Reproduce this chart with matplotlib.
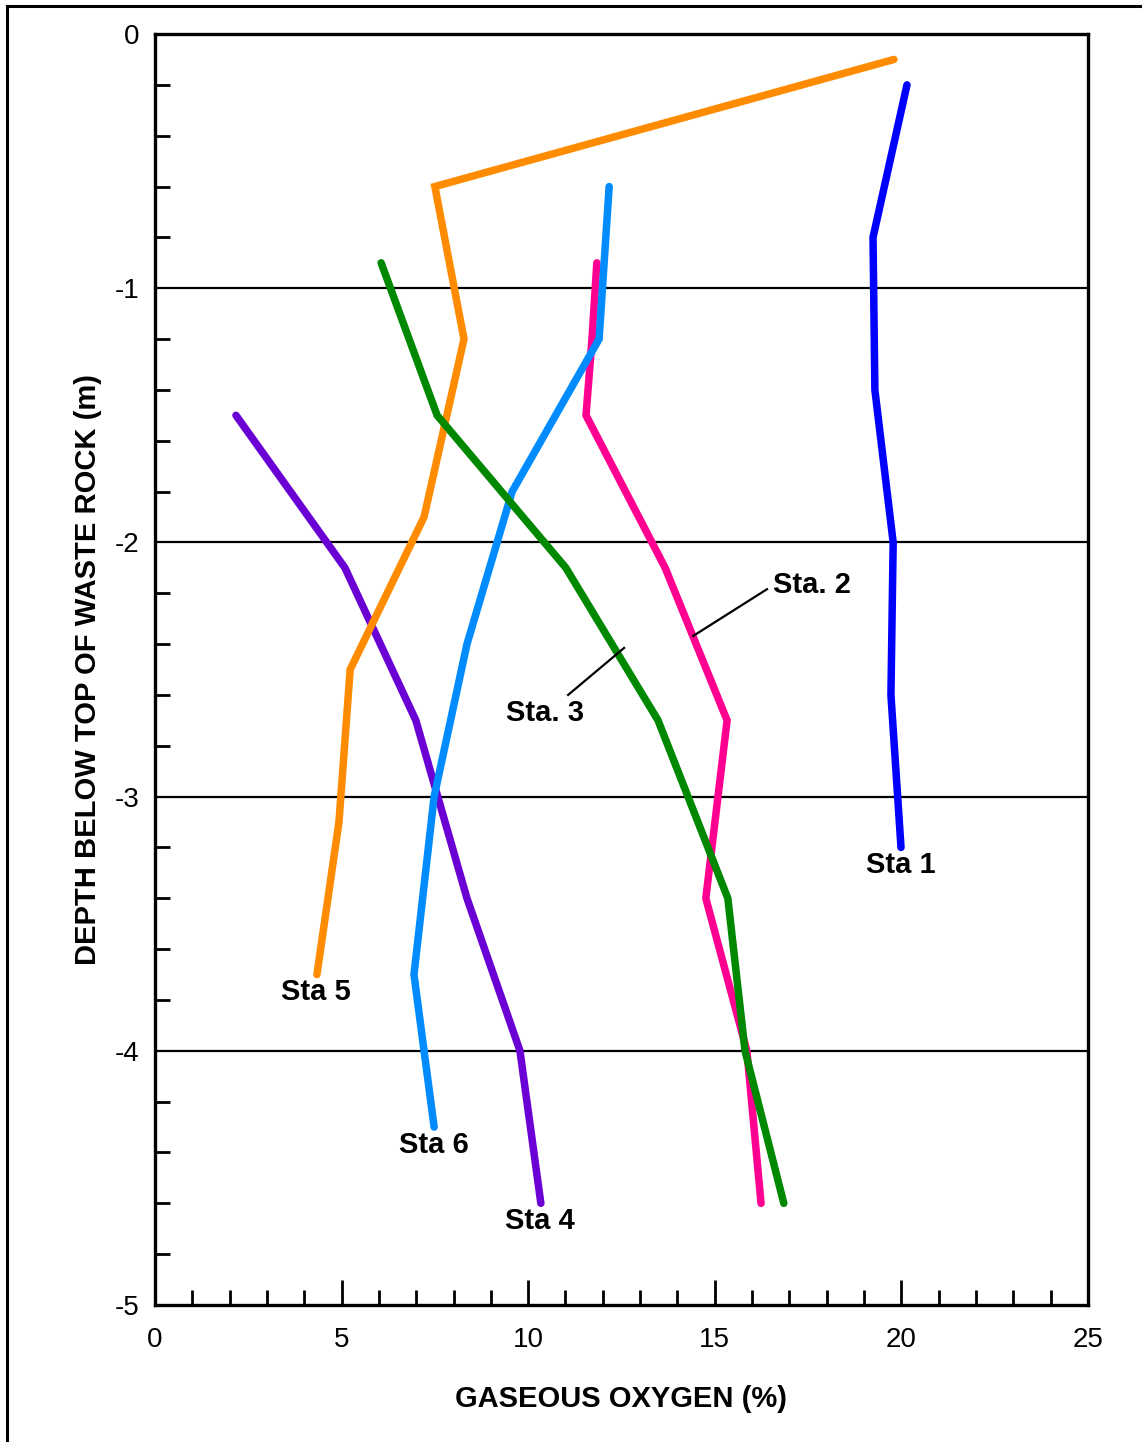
import numpy as np
import matplotlib.pyplot as plt
from matplotlib.lines import Line2D
from matplotlib.ticker import MultipleLocator

plt.rcParams['font.family'] = ['Liberation Sans', 'DejaVu Sans']
plt.rcParams['axes.unicode_minus'] = False

# oxygen profiles: O2 (%) vs depth below top of waste rock (m)
sta1_o2 = [20.15, 19.24, 19.29, 19.78, 19.72, 19.99]
sta1_z = [-0.2, -0.8, -1.4, -2.0, -2.6, -3.2]

sta2_o2 = [11.84, 11.71, 11.55, 13.67, 15.33, 14.76, 15.86, 16.24]
sta2_z = [-0.9, -1.2, -1.5, -2.1, -2.7, -3.4, -4.0, -4.6]

sta3_o2 = [6.06, 7.56, 11.01, 13.48, 15.35, 15.81, 16.85]
sta3_z = [-0.9, -1.5, -2.1, -2.7, -3.4, -4.0, -4.6]

sta4_o2 = [2.17, 5.09, 6.99, 8.36, 9.78, 10.34]
sta4_z = [-1.5, -2.1, -2.7, -3.4, -4.0, -4.6]

sta5_o2 = [19.8, 7.50, 8.28, 7.21, 5.23, 4.93, 4.34]
sta5_z = [-0.1, -0.6, -1.2, -1.9, -2.5, -3.1, -3.7]

sta6_o2 = [12.17, 11.90, 9.57, 8.36, 7.48, 6.94, 7.48]
sta6_z = [-0.6, -1.2, -1.8, -2.4, -3.0, -3.7, -4.3]

fig = plt.figure(figsize=(11.42, 14.42), dpi=100)
ax = fig.add_axes([0.1357, 0.0950, 0.8170, 0.8814])

# horizontal reference lines
for yv in [-1, -2, -3, -4]:
    ax.axhline(yv, color='black', lw=1.6, zorder=1)

style = dict(lw=5.4, solid_capstyle='round', solid_joinstyle='miter')
ax.plot(sta1_o2, sta1_z, color='#0000ff', zorder=3, **style)
ax.plot(sta2_o2, sta2_z, color='#ff0090', zorder=3, **style)
ax.plot(sta3_o2, sta3_z, color='#008800', zorder=4, **style)
ax.plot(sta4_o2, sta4_z, color='#6a00d4', zorder=3, **style)
ax.plot(sta5_o2, sta5_z, color='#ff8c00', zorder=3, **style)
ax.plot(sta6_o2, sta6_z, color='#008cff', zorder=3, **style)

lab = dict(fontsize=21, fontweight='bold', ha='center', va='center', zorder=5)
ax.text(19.99, -3.27, 'Sta 1', **lab)
ax.text(17.60, -2.168, 'Sta. 2', **lab)
ax.text(10.45, -2.67, 'Sta. 3', **lab)
ax.text(10.32, -4.67, 'Sta 4', **lab)
ax.text(4.31, -3.77, 'Sta 5', **lab)
ax.text(7.48, -4.37, 'Sta 6', **lab)

# leader lines for the station 2 and 3 labels
ax.plot([16.40, 14.42], [-2.184, -2.368], color='black', lw=1.6, zorder=5)
ax.plot([11.07, 12.57], [-2.60, -2.415], color='black', lw=1.6, zorder=5)

ax.set_xlim(0, 25)
ax.set_ylim(-5, 0)
ax.xaxis.set_major_locator(MultipleLocator(5))
ax.xaxis.set_minor_locator(MultipleLocator(1))
ax.yaxis.set_major_locator(MultipleLocator(1))
ax.yaxis.set_minor_locator(MultipleLocator(0.2))
ax.tick_params(which='both', direction='in', top=False, right=False, width=2)
ax.tick_params(which='major', length=18, labelsize=20, pad=16)
ax.tick_params(which='minor', length=11)
ax.tick_params(axis='y', which='major', length=0, pad=11)

for s in ax.spines.values():
    s.set_linewidth(2.4)

ax.set_xlabel('GASEOUS OXYGEN (%)', fontsize=21, fontweight='bold', labelpad=23)
ax.set_ylabel('DEPTH BELOW TOP OF WASTE ROCK (m)', fontsize=21, fontweight='bold', labelpad=9)

# outer frame
fig.add_artist(Line2D([7/1142, 7/1142], [0, 1 - 6/1442], color='black', lw=2.2))
fig.add_artist(Line2D([7/1142, 1], [1 - 6/1442, 1 - 6/1442], color='black', lw=2.2))

plt.savefig('out.png', dpi=100)
